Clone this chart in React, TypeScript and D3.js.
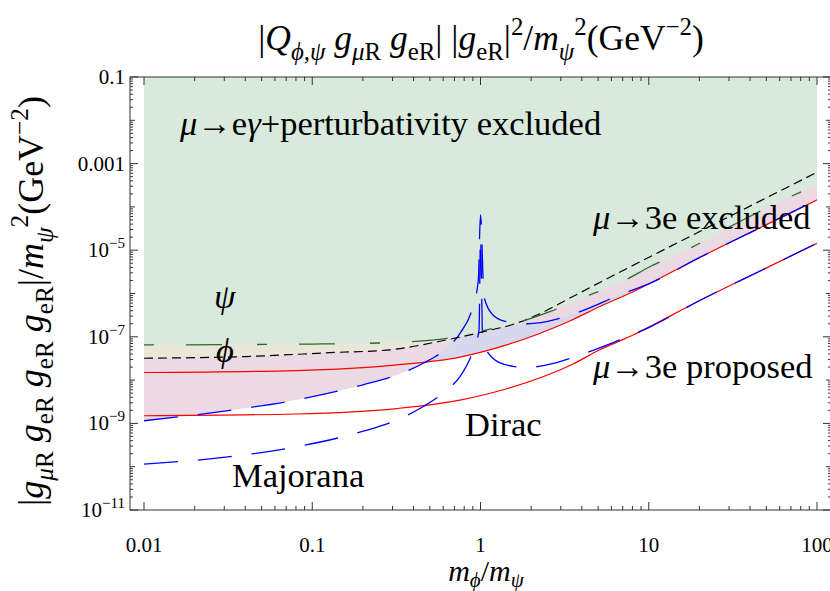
import React from "react";
import * as d3 from "d3";

type Pt = [number, number];

// Coupling bounds versus m_phi / m_psi (GeV^-2)
// mu -> e gamma + perturbativity bound, psi in the loop
const psiBound: Pt[] = [
  [0.01, 6.5e-8], [0.1, 6.8e-8], [0.25, 7.2e-8], [0.57, 8.7e-8], [1.0, 1.35e-7],
  [1.71, 2.2e-7], [2.58, 3.8e-7], [4.47, 9.3e-7], [7.0, 1.9e-6], [10.2, 4.2e-6],
  [17.5, 1.1e-5], [34.8, 4.6e-5], [68.9, 1.7e-4], [100, 3.2e-4],
];
// mu -> e gamma bound, phi in the loop
const phiBound: Pt[] = [
  [0.01, 3.2e-8], [0.04, 3.5e-8], [0.127, 4.3e-8], [0.29, 5.0e-8], [0.574, 7.9e-8],
  [1.03, 1.3e-7], [1.6, 2.0e-7], [2.25, 3.4e-7], [3.3, 7.4e-7], [5.12, 1.8e-6],
  [20.1, 2.7e-5], [100, 6.3e-4],
];
// mu -> 3e, Dirac, current limit
const diracExcluded: Pt[] = [
  [0.01, 1.5e-8], [0.08, 1.66e-8], [0.318, 2.24e-8], [0.755, 3.4e-8], [1.43, 6.5e-8],
  [3.5, 2.45e-7], [5.12, 5.0e-7], [8.07, 1.1e-6], [20.1, 6.8e-6], [50.1, 3.9e-5], [100, 1.45e-4],
];
// mu -> 3e, Dirac, proposed sensitivity
const diracProposed: Pt[] = [
  [0.01, 1.5e-9], [0.08, 1.65e-9], [0.318, 2.2e-9], [0.755, 3.45e-9], [1.43, 6.3e-9],
  [3.5, 2.3e-8], [5.12, 5.0e-8], [8.07, 1.1e-7], [20.1, 6.9e-7], [50.1, 3.9e-6], [100, 1.45e-5],
];
// mu -> 3e, Majorana, current limit
const majoranaExcluded: Pt[] = [
  [0.01, 1.15e-9], [0.0324, 2.0e-9], [0.0807, 3.5e-9], [0.201, 7.8e-9], [0.318, 1.32e-8],
  [0.457, 2.45e-8], [0.63, 5.5e-8], [0.755, 1.2e-7], [0.9, 5.0e-7], [0.97, 2.0e-6],
  [1.0, 6.5e-5], [1.05, 8.3e-7], [1.185, 3.2e-7], [1.43, 2.24e-7], [1.88, 2.0e-7],
  [2.47, 2.24e-7], [3.9, 3.8e-7], [6.73, 9.3e-7], [10.2, 1.74e-6], [20.1, 6.8e-6],
  [50.1, 3.9e-5], [100, 1.45e-4],
];
// mu -> 3e, Majorana, proposed sensitivity
const majoranaProposed: Pt[] = [
  [0.01, 1.15e-10], [0.0324, 1.7e-10], [0.0807, 2.9e-10], [0.201, 6.6e-10], [0.318, 1.2e-9],
  [0.457, 2.45e-9], [0.63, 5.9e-9], [0.755, 1.2e-8], [0.9, 4.6e-8], [0.98, 1.45e-7],
  [1.0, 2.0e-5], [1.03, 8.5e-8], [1.185, 3.2e-8], [1.43, 2.24e-8], [1.88, 1.95e-8],
  [2.47, 2.24e-8], [3.9, 3.8e-8], [6.73, 8.5e-8], [10.2, 1.7e-7], [20.1, 6.9e-7],
  [50.1, 3.9e-6], [100, 1.45e-5],
];

const xTickValues = [0.01, 0.1, 1, 10, 100];
const xTickLabels = ["0.01", "0.1", "1", "10", "100"];
const yTickValues = [1e-1, 1e-3, 1e-5, 1e-7, 1e-9, 1e-11];
const yTickLabels: [string, string | null][] = [
  ["0.1", null], ["0.001", null], ["10", "\u22125"], ["10", "\u22127"], ["10", "\u22129"], ["10", "\u221211"],
];

type Seg = { t: string; i?: boolean; sub?: boolean; sup?: boolean };

function rich(segs: Seg[], size: number, subShift = 0.28) {
  let cur = 0;
  return segs.map((s, k) => {
    const target = s.sub ? subShift * size : s.sup ? -0.42 * size : 0;
    const dy = target - cur;
    cur = target;
    return (
      <tspan
        key={k}
        dy={dy}
        fontStyle={s.i ? "italic" : "normal"}
        fontSize={s.sub || s.sup ? size * 0.7 : size}
      >
        {s.t}
      </tspan>
    );
  });
}

const FONT = "'Liberation Serif', 'Times New Roman', serif";

const titleSegs: Seg[] = [
  { t: "|" }, { t: "Q", i: true }, { t: "\u03d5,\u03c8", i: true, sub: true }, { t: " " },
  { t: "g", i: true }, { t: "\u03bc", i: true, sub: true }, { t: "R", sub: true }, { t: " " },
  { t: "g", i: true }, { t: "eR", sub: true }, { t: "| |" },
  { t: "g", i: true }, { t: "eR", sub: true }, { t: "|" }, { t: "2", sup: true },
  { t: "/" }, { t: "m", i: true }, { t: "\u03c8", i: true, sub: true }, { t: "2", sup: true },
  { t: "(GeV" }, { t: "\u22122", sup: true }, { t: ")" },
];

const yLabelSegs: Seg[] = [
  { t: "|" }, { t: "g", i: true }, { t: "\u03bc", i: true, sub: true }, { t: "R", sub: true }, { t: " " },
  { t: "g", i: true }, { t: "eR", sub: true }, { t: " " },
  { t: "g", i: true }, { t: "eR", sub: true }, { t: " " },
  { t: "g", i: true }, { t: "eR", sub: true }, { t: "|/" },
  { t: "m", i: true }, { t: "\u03c8", i: true, sub: true }, { t: "2", sup: true },
  { t: "(GeV" }, { t: "\u22122", sup: true }, { t: ")" },
];

const xLabelSegs: Seg[] = [
  { t: "m", i: true }, { t: "\u03d5", i: true, sub: true }, { t: "/" },
  { t: "m", i: true }, { t: "\u03c8", i: true, sub: true },
];

export default function App() {
  const W = 830, H = 591;
  const frame = { left: 130, right: 831, top: 77, bottom: 510 };
  const x = d3.scaleLog().domain([0.01, 100]).range([144, 817]);
  const y = d3.scaleLog().domain([1e-11, 0.1]).range([510, 77]);

  const line = d3.line<Pt>().x((d) => x(d[0])).y((d) => y(d[1])).curve(d3.curveMonotoneX);
  const above = d3
    .area<Pt>()
    .x((d) => x(d[0]))
    .y0(y(0.1))
    .y1((d) => y(d[1]))
    .curve(d3.curveMonotoneX);

  // tick marks: decades and 2..9 subdivisions
  const xMinor: number[] = [];
  for (let e = -2; e < 2; e++) for (let m = 2; m <= 9; m++) xMinor.push(m * Math.pow(10, e));
  const yMinor: number[] = [];
  for (let e = -11; e < -1; e++) for (let m = 2; m <= 9; m++) yMinor.push(m * Math.pow(10, e));
  const yMid: number[] = [];
  for (let e = -10; e <= -2; e += 2) yMid.push(Math.pow(10, e));

  const tickColor = "#333";
  const labelSize = 34.5;

  return (
    <svg
      width={W}
      height={H}
      style={{ position: "absolute", left: 0, top: 0, display: "block", background: "#fff" }}
      fontFamily={FONT}
    >
      <defs>
        <clipPath id="plotArea">
          <rect x={144} y={77} width={673} height={433} />
        </clipPath>
      </defs>

      <g clipPath="url(#plotArea)">
        <path d={above(diracExcluded) ?? ""} fill="#d7d8ec" />
        <path d={above(majoranaExcluded) ?? ""} fill="#ebd9e4" />
        <path d={above(phiBound) ?? ""} fill="#e9e7da" />
        <path d={above(psiBound) ?? ""} fill="#d9eadd" />

        <path d={line(diracExcluded) ?? ""} fill="none" stroke="#f00" strokeWidth={1.2} />
        <path d={line(diracProposed) ?? ""} fill="none" stroke="#f00" strokeWidth={1.2} />
        <path d={line(majoranaExcluded) ?? ""} fill="none" stroke="#00f" strokeWidth={1.3} strokeDasharray="34 20" />
        <path d={line(majoranaProposed) ?? ""} fill="none" stroke="#00f" strokeWidth={1.3} strokeDasharray="34 20" />
        <path d={line(phiBound) ?? ""} fill="none" stroke="#000" strokeWidth={1.2} strokeDasharray="9 5" />
        <path d={line(psiBound) ?? ""} fill="none" stroke="#2a6a2a" strokeWidth={1.3} strokeDasharray="10 32 36 35" />
      </g>

      {/* frame */}
      <rect
        x={frame.left}
        y={frame.top}
        width={frame.right - frame.left}
        height={frame.bottom - frame.top}
        fill="none"
        stroke={tickColor}
        strokeWidth={1}
      />

      {/* x ticks, bottom and top */}
      {xTickValues.map((v) => (
        <g key={"xm" + v}>
          <line x1={x(v)} x2={x(v)} y1={frame.bottom} y2={frame.bottom - 8} stroke={tickColor} />
          <line x1={x(v)} x2={x(v)} y1={frame.top} y2={frame.top + 8} stroke={tickColor} />
        </g>
      ))}
      {xMinor.map((v) => (
        <g key={"xn" + v}>
          <line x1={x(v)} x2={x(v)} y1={frame.bottom} y2={frame.bottom - 4} stroke={tickColor} />
          <line x1={x(v)} x2={x(v)} y1={frame.top} y2={frame.top + 4} stroke={tickColor} />
        </g>
      ))}

      {/* y ticks, left and right */}
      {yTickValues.map((v) => (
        <g key={"ym" + v}>
          <line x1={frame.left} x2={frame.left + 8} y1={y(v)} y2={y(v)} stroke={tickColor} />
          <line x1={frame.right} x2={frame.right - 8} y1={y(v)} y2={y(v)} stroke={tickColor} />
        </g>
      ))}
      {yMid.map((v) => (
        <g key={"yd" + v}>
          <line x1={frame.left} x2={frame.left + 5} y1={y(v)} y2={y(v)} stroke={tickColor} />
          <line x1={frame.right} x2={frame.right - 5} y1={y(v)} y2={y(v)} stroke={tickColor} />
        </g>
      ))}
      {yMinor.map((v) => (
        <g key={"yn" + v}>
          <line x1={frame.left} x2={frame.left + 3} y1={y(v)} y2={y(v)} stroke={tickColor} />
          <line x1={frame.right} x2={frame.right - 3} y1={y(v)} y2={y(v)} stroke={tickColor} />
        </g>
      ))}

      {/* tick labels */}
      {xTickValues.map((v, i) => (
        <text key={"xl" + v} x={x(v)} y={552} fontSize={21} textAnchor="middle">
          {xTickLabels[i]}
        </text>
      ))}
      {yTickValues.map((v, i) => (
        <text key={"yl" + v} x={125} y={y(v) + 7} fontSize={21} textAnchor="end">
          {yTickLabels[i][0]}
          {yTickLabels[i][1] && (
            <tspan fontSize={15} dy={-9}>
              {yTickLabels[i][1]}
            </tspan>
          )}
        </text>
      ))}

      {/* axis titles */}
      <text x={481} y={50} fontSize={35.5} textAnchor="middle">
        {rich(titleSegs, 35.5)}
      </text>
      <text x={486} y={581} fontSize={30} textAnchor="middle">
        {rich(xLabelSegs, 30, 0.2)}
      </text>
      <text transform="translate(43,301) rotate(-90)" fontSize={36} textAnchor="middle">
        {rich(yLabelSegs, 36)}
      </text>

      {/* region and curve annotations */}
      <text x={180} y={135} fontSize={labelSize}>
        {rich([{ t: "\u03bc", i: true }, { t: "\u2192e" }, { t: "\u03b3", i: true }, { t: "+perturbativity excluded" }], labelSize)}
      </text>
      <text x={593} y={229} fontSize={labelSize}>
        {rich([{ t: "\u03bc", i: true }, { t: "\u21923e excluded" }], labelSize)}
      </text>
      <text x={593} y={378} fontSize={labelSize}>
        {rich([{ t: "\u03bc", i: true }, { t: "\u21923e proposed" }], labelSize)}
      </text>
      <text x={214} y={308} fontSize={labelSize} fontStyle="italic">{"\u03c8"}</text>
      <text x={216} y={362} fontSize={labelSize} fontStyle="italic">{"\u03d5"}</text>
      <text x={465} y={436} fontSize={labelSize}>Dirac</text>
      <text x={232} y={487} fontSize={labelSize}>Majorana</text>
    </svg>
  );
}
